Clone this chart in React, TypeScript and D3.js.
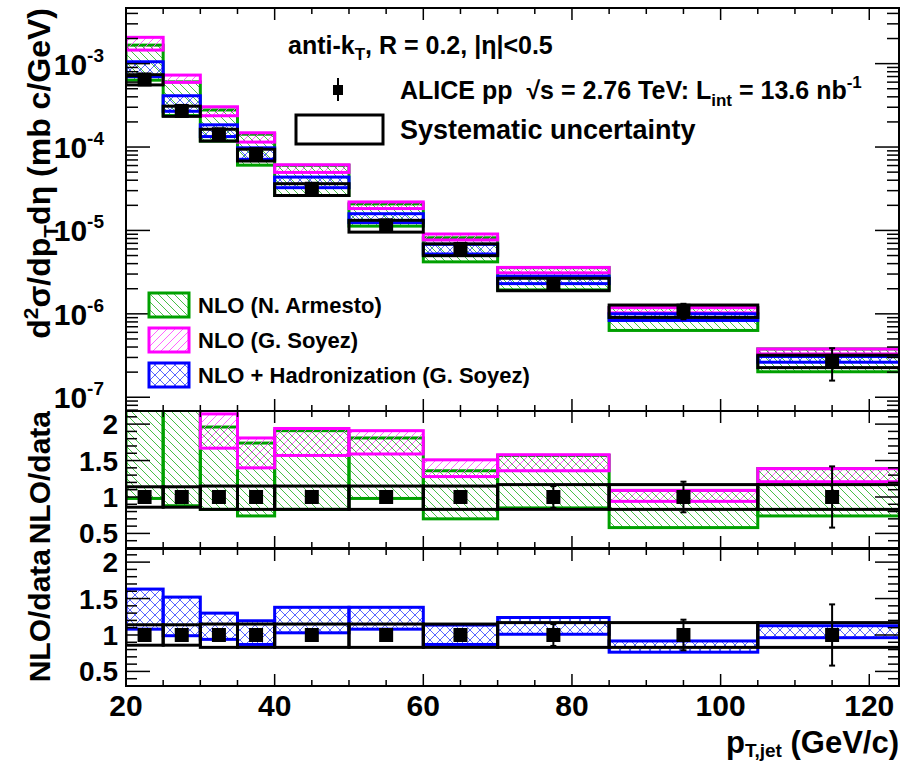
import React from 'react';
import * as d3 from 'd3';

// ---------- data ----------
const binLo = [20, 25, 30, 35, 40, 50, 60, 70, 85, 105];
const binHi = [25, 30, 35, 40, 50, 60, 70, 85, 105, 125];
const ptCenter = [22.5, 27.5, 32.5, 37.5, 45, 55, 65, 77.5, 95, 115];
const dataY = [6.46e-4, 2.71e-4, 1.42e-4, 8.19e-5, 3.16e-5, 1.15e-5, 6.0e-6, 2.28e-6, 1.09e-6, 2.73e-7];
const statRel = [0.02, 0.02, 0.02, 0.02, 0.02, 0.03, 0.07, 0.15, 0.21, 0.42];
const sysUp = [0.14, 0.14, 0.15, 0.15, 0.15, 0.15, 0.15, 0.17, 0.17, 0.17];
const sysDown = [0.14, 0.14, 0.17, 0.17, 0.17, 0.17, 0.17, 0.17, 0.17, 0.17];

// NLO / data ratios (band high / low)
const armHi = [2.58, 2.23, 1.96, 1.74, 1.91, 1.81, 1.36, 1.57, 1.09, 1.39];
const armLo = [0.98, 0.88, 0.83, 0.74, 0.83, 0.98, 0.70, 0.85, 0.58, 0.74];
const soyHi = [3.2, 2.69, 2.14, 1.81, 1.94, 1.91, 1.51, 1.58, 1.09, 1.39];
const soyLo = [2.25, 2.2, 1.67, 1.40, 1.57, 1.59, 1.28, 1.36, 0.94, 1.21];
const hadHi = [1.63, 1.52, 1.30, 1.195, 1.38, 1.38, 1.136, 1.24, 0.918, 1.127];
const hadLo = [1.08, 0.99, 0.94, 0.87, 1.03, 1.08, 0.87, 1.01, 0.764, 0.963];

const xMajor = [20, 40, 60, 80, 100, 120];
const ratioMajor = [0.5, 1, 1.5, 2];
const ratioLabels = ['0.5', '1', '1.5', '2'];
const logMajorExp = [-3, -4, -5, -6, -7];

const legendNames = ['NLO (N. Armesto)', 'NLO (G. Soyez)', 'NLO + Hadronization (G. Soyez)'];

const GREEN = '#00a000';
const MAGENTA = '#ff00ff';
const BLUE = '#0000ff';
const FONT = '"Liberation Sans", Arial, Helvetica, sans-serif';

export default function App() {
  const W = 902, H = 763;
  const L = 126, R = 899;
  const topP = { y0: 8, y1: 411 };
  const midP = { y0: 411, y1: 548 };
  const botP = { y0: 549, y1: 686 };

  const x = d3.scaleLinear().domain([20, 124]).range([L, R]);
  const yTop = d3.scaleLog().domain([Math.pow(10, -7.165), Math.pow(10, -2.333)]).range([topP.y1, topP.y0]);
  const yMid = d3.scaleLinear().domain([0.3, 2.18]).range([midP.y1, midP.y0]);
  const yBot = d3.scaleLinear().domain([0.3, 2.18]).range([botP.y1, botP.y0]);

  const xMinor = d3.range(20, 125, 5).filter((v) => x(v) <= R);
  const ratioMinor = d3.range(4, 22).map((v) => v / 10);
  const logTicks: { v: number; major: boolean }[] = [];
  for (let e = -8; e <= -2; e++) {
    for (let m = 1; m <= 9; m++) {
      const v = m * Math.pow(10, e);
      const [a, b] = yTop.domain();
      if (v >= a && v <= b) logTicks.push({ v, major: m === 1 });
    }
  }

  const xTicks = (y0: number, y1: number, key: string) => (
    <g key={key} stroke="#000" strokeWidth={1.5}>
      {xMinor.map((v) => {
        const maj = xMajor.includes(v);
        const len = maj ? 12 : 6;
        return (
          <g key={v}>
            <line x1={x(v)} x2={x(v)} y1={y0} y2={y0 + len} />
            <line x1={x(v)} x2={x(v)} y1={y1} y2={y1 - len} />
          </g>
        );
      })}
    </g>
  );

  const yTicksLin = (ys: d3.ScaleLinear<number, number>, key: string) => (
    <g key={key} stroke="#000" strokeWidth={1.5}>
      {ratioMinor.map((v) => {
        const maj = ratioMajor.some((m) => Math.abs(m - v) < 1e-6);
        const len = maj ? 24 : 11;
        return (
          <g key={v}>
            <line x1={L} x2={L + len} y1={ys(v)} y2={ys(v)} />
            <line x1={R} x2={R - len} y1={ys(v)} y2={ys(v)} />
          </g>
        );
      })}
    </g>
  );

  const band = (
    ys: (v: number) => number,
    hi: number[],
    lo: number[],
    scale: number[] | null,
    color: string,
    pat: string,
    key: string
  ) => (
    <g key={key}>
      {binLo.map((b, i) => {
        const f = scale ? scale[i] : 1;
        const yt = ys(hi[i] * f);
        const yb = ys(lo[i] * f);
        return (
          <rect
            key={i}
            x={x(b)}
            y={yt}
            width={x(binHi[i]) - x(b)}
            height={yb - yt}
            fill={`url(#${pat})`}
            stroke={color}
            strokeWidth={3}
          />
        );
      })}
    </g>
  );

  const sysBoxes = (ys: (v: number) => number, scale: number[] | null, key: string) => (
    <g key={key}>
      {binLo.map((b, i) => {
        const f = scale ? scale[i] : 1;
        const yt = ys((1 + sysUp[i]) * f);
        const yb = ys((1 - sysDown[i]) * f);
        return (
          <rect key={i} x={x(b)} y={yt} width={x(binHi[i]) - x(b)} height={yb - yt} fill="none" stroke="#000" strokeWidth={3} />
        );
      })}
    </g>
  );

  const points = (ys: (v: number) => number, scale: number[] | null, key: string) => (
    <g key={key}>
      {ptCenter.map((c, i) => {
        const f = scale ? scale[i] : 1;
        const cx = x(c);
        const cy = ys(f);
        const ey1 = ys((1 + statRel[i]) * f);
        const ey2 = ys((1 - statRel[i]) * f);
        return (
          <g key={i}>
            <line x1={cx} x2={cx} y1={ey1} y2={ey2} stroke="#000" strokeWidth={2} />
            <line x1={cx - 3} x2={cx + 3} y1={ey1} y2={ey1} stroke="#000" strokeWidth={2} />
            <line x1={cx - 3} x2={cx + 3} y1={ey2} y2={ey2} stroke="#000" strokeWidth={2} />
            <rect x={cx - 7} y={cy - 7} width={14} height={14} fill="#000" />
          </g>
        );
      })}
    </g>
  );

  const frame = (p: { y0: number; y1: number }, key: string) => (
    <rect key={key} x={L} y={p.y0} width={R - L} height={p.y1 - p.y0} fill="none" stroke="#000" strokeWidth={2} />
  );

  const ratioLabelEls = (ys: d3.ScaleLinear<number, number>, key: string) => (
    <g key={key}>
      {ratioMajor.map((v, i) => (
        <text key={v} x={118} y={ys(v) + 10} textAnchor="end" fontSize={28} fontWeight="bold" fontFamily={FONT}>
          {ratioLabels[i]}
        </text>
      ))}
    </g>
  );

  return (
    <svg width={W} height={H} style={{ position: 'absolute', left: 0, top: 0, background: '#fff' }} fontFamily={FONT}>
      <defs>
        <pattern id="hGreen" patternUnits="userSpaceOnUse" width={8} height={8}>
          <path d="M0,0 L8,8 M-2,6 L2,10 M6,-2 L10,2" stroke="#33b833" strokeWidth={0.9} />
        </pattern>
        <pattern id="hMag" patternUnits="userSpaceOnUse" width={8} height={8}>
          <path d="M0,8 L8,0 M-2,2 L2,-2 M6,10 L10,6" stroke="#ff55ff" strokeWidth={0.9} />
        </pattern>
        <pattern id="hBlue" patternUnits="userSpaceOnUse" width={10} height={10}>
          <path d="M0,0 L10,10 M0,10 L10,0" stroke="#4455ff" strokeWidth={0.9} />
        </pattern>
        <clipPath id="cTop"><rect x={L} y={topP.y0} width={R - L} height={topP.y1 - topP.y0} /></clipPath>
        <clipPath id="cMid"><rect x={L} y={midP.y0} width={R - L} height={midP.y1 - midP.y0} /></clipPath>
        <clipPath id="cBot"><rect x={L} y={botP.y0} width={R - L} height={botP.y1 - botP.y0} /></clipPath>
      </defs>
      <rect x={0} y={0} width={W} height={H} fill="#fff" />

      {/* ---------- top panel ---------- */}
      <g clipPath="url(#cTop)">
        {band(yTop, armHi, armLo, dataY, GREEN, 'hGreen', 'tg')}
        {band(yTop, soyHi, soyLo, dataY, MAGENTA, 'hMag', 'tm')}
        {band(yTop, hadHi, hadLo, dataY, BLUE, 'hBlue', 'tb')}
        {sysBoxes(yTop, dataY, 'ts')}
        {points(yTop, dataY, 'tp')}
      </g>
      {frame(topP, 'ft')}
      {xTicks(topP.y0, topP.y1, 'xt1')}
      <g stroke="#000" strokeWidth={1.5}>
        {logTicks.map((t, i) => {
          const len = t.major ? 24 : 12;
          return (
            <g key={i}>
              <line x1={L} x2={L + len} y1={yTop(t.v)} y2={yTop(t.v)} />
              <line x1={R} x2={R - len} y1={yTop(t.v)} y2={yTop(t.v)} />
            </g>
          );
        })}
      </g>
      {logMajorExp.map((e) => (
        <text key={e} x={104} y={yTop(Math.pow(10, e)) + 11} textAnchor="end" fontSize={30} fontWeight="bold">
          10<tspan fontSize={19} dy={-13}>{String(e)}</tspan>
        </text>
      ))}

      {/* texts top right */}
      <text x={288} y={54} fontSize={25} fontWeight="bold">
        anti-k<tspan fontSize={17} dy={6}>T</tspan><tspan dy={-6}>, R = 0.2, |η|&lt;0.5</tspan>
      </text>
      <line x1={338} x2={338} y1={78} y2={101} stroke="#000" strokeWidth={2} />
      <rect x={333} y={85} width={10} height={10} fill="#000" />
      <text x={400} y={99} fontSize={25} fontWeight="bold">
        {'ALICE pp\u00a0\u00a0√s = 2.76 TeV: L'}<tspan fontSize={17} dy={7}>int</tspan><tspan dy={-7}> = 13.6 nb</tspan><tspan fontSize={17} dy={-11}>-1</tspan>
      </text>
      <rect x={296} y={115} width={87} height={29} fill="none" stroke="#000" strokeWidth={3} />
      <text x={400} y={139} fontSize={27} fontWeight="bold">Systematic uncertainty</text>

      {/* legend */}
      {[
        { c: GREEN, p: 'hGreen', y: 293 },
        { c: MAGENTA, p: 'hMag', y: 328 },
        { c: BLUE, p: 'hBlue', y: 363 },
      ].map((e, i) => (
        <g key={i}>
          <rect x={149} y={e.y} width={40} height={24} fill={`url(#${e.p})`} stroke={e.c} strokeWidth={3} />
          <text x={198} y={e.y + 20} fontSize={22} fontWeight="bold">{legendNames[i]}</text>
        </g>
      ))}

      {/* ---------- middle panel ---------- */}
      <g clipPath="url(#cMid)">
        {band(yMid, armHi, armLo, null, GREEN, 'hGreen', 'mg')}
        {band(yMid, soyHi, soyLo, null, MAGENTA, 'hMag', 'mm')}
        {sysBoxes(yMid, null, 'ms')}
        {points(yMid, null, 'mp')}
      </g>
      {frame(midP, 'fm')}
      {xTicks(midP.y0, midP.y1, 'xt2')}
      {yTicksLin(yMid, 'ytm')}
      {ratioLabelEls(yMid, 'rlm')}

      {/* ---------- bottom panel ---------- */}
      <g clipPath="url(#cBot)">
        {band(yBot, hadHi, hadLo, null, BLUE, 'hBlue', 'bb')}
        {sysBoxes(yBot, null, 'bs')}
        {points(yBot, null, 'bp')}
      </g>
      {frame(botP, 'fb')}
      {xTicks(botP.y0, botP.y1, 'xt3')}
      {yTicksLin(yBot, 'ytb')}
      {ratioLabelEls(yBot, 'rlb')}

      {/* x tick labels */}
      {xMajor.map((v) => (
        <text key={v} x={x(v)} y={716} textAnchor="middle" fontSize={30} fontWeight="bold">{v}</text>
      ))}
      <text x={899} y={753} textAnchor="end" fontSize={31} fontWeight="bold">
        p<tspan fontSize={19} dy={4}>T,jet</tspan><tspan dy={-4}> (GeV/c)</tspan>
      </text>

      {/* y titles */}
      <text transform="translate(50,8) rotate(-90)" textAnchor="end" fontSize={32} fontWeight="bold">
        d<tspan fontSize={21} dy={-12}>2</tspan><tspan dy={12}>σ/dp</tspan><tspan fontSize={21} dy={8}>T</tspan><tspan dy={-8}>dη (mb c/GeV)</tspan>
      </text>
      <text transform={`translate(50,${midP.y0}) rotate(-90)`} textAnchor="end" fontSize={30} fontWeight="bold">NLO/data</text>
      <text transform={`translate(50,${botP.y0}) rotate(-90)`} textAnchor="end" fontSize={30} fontWeight="bold">NLO/data</text>
    </svg>
  );
}
